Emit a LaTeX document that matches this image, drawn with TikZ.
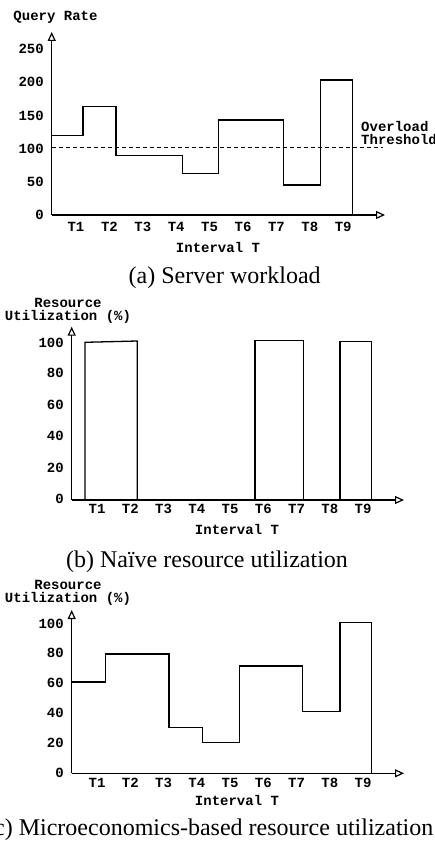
\documentclass[tikz,border=0pt]{standalone}
\usepackage{fontspec}
\setmainfont{Liberation Serif}
\setmonofont{Liberation Mono}
\usetikzlibrary{arrows.meta}

\begin{document}
\begin{tikzpicture}[x=1pt, y=-1pt,
  axis/.style={line width=1.2pt, -{Triangle[open, length=9pt, width=8pt]}},
  curve/.style={line width=1.3pt},
  mono/.style={inner sep=0pt, font=\ttfamily\bfseries\fontsize{14}{13}\selectfont, align=center},
  caption/.style={inner sep=0pt, font=\fontsize{24}{26}\selectfont, anchor=base}]
\useasboundingbox (0,0) rectangle (435,842);

% (a) server workload
\coordinate (a-o) at (51.7,215);
\draw[axis] (a-o) -- (51.7,32);
\draw[axis] (a-o) -- (385,215);
\node[mono] (qrate) at (55.5,17) {Query Rate};
\foreach \v/\y in {0/215,50/181.8,100/148.6,150/115.4,200/82.2,250/49}
  \node[mono, anchor=east] (a-y\v) at (44,\y) {\v};
\foreach \i in {1,...,9}
  \node[mono] (a-t\i) at ({76+33.4*(\i-1)},227) {T\i};
\node[mono] (a-int) at (218,247) {Interval T};
\draw[line width=1pt, dash pattern=on 4pt off 3pt] (51.7,148) -- (383,148);
\node[mono, anchor=west, align=left] (thresh) at (361,132.5) {Overload\\Threshold};
\draw[curve] (51.7,135.7) -- (83,135.7) -- (83,106.7) -- (116,106.7) -- (116,155.7)
  -- (182.3,155.7) -- (182.3,173.3) -- (218.3,173.3) -- (218.3,120) -- (283.3,120)
  -- (283.3,185) -- (320.7,185) -- (320.7,80) -- (352.7,80) -- (352.7,215);
\node[caption] (cap-a) at (224.7,283) {(a) Server workload};

% (b) naive utilization
\coordinate (b-o) at (71.7,500);
\draw[axis] (b-o) -- (71.7,326.7);
\draw[axis] (b-o) -- (404,500);
\node[mono] (b-util) at (68,310.5) {Resource\\Utilization (\%)};
\foreach \v/\y in {0/499,20/468,40/436,60/405,80/373,100/343}
  \node[mono, anchor=east] (b-y\v) at (64,\y) {\v};
\foreach \i in {1,...,9}
  \node[mono] (b-t\i) at ({97+33.25*(\i-1)},509) {T\i};
\node[mono] (b-int) at (237,529) {Interval T};
\draw[curve] (85,500) -- (85,342.3) -- (137.3,341) -- (137.3,500);
\draw[curve] (255,500) -- (255,340.7) -- (303.3,340.7) -- (303.3,500);
\draw[curve] (340,500) -- (340,341.3) -- (371.7,341.3) -- (371.7,500);
\node[caption] (cap-b) at (207,567) {(b) Naïve resource utilization};

% (c) microeconomics-based utilization
\coordinate (c-o) at (71.7,773.3);
\draw[axis] (c-o) -- (71.7,610);
\draw[axis] (c-o) -- (404,773.3);
\node[mono] (c-util) at (68,593) {Resource\\Utilization (\%)};
\foreach \v/\y in {0/772.7,20/742.7,40/712.7,60/682.7,80/653.3,100/624}
  \node[mono, anchor=east] (c-y\v) at (64,\y) {\v};
\foreach \i in {1,...,9}
  \node[mono] (c-t\i) at ({97+33.25*(\i-1)},782.7) {T\i};
\node[mono] (c-int) at (237,800.7) {Interval T};
\draw[curve] (71.7,682) -- (105.3,682) -- (105.3,654) -- (169,654) -- (169,727.7)
  -- (202.7,727.7) -- (202.7,742.7) -- (239.3,742.7) -- (239.3,666) -- (302.7,666)
  -- (302.7,711.7) -- (340,711.7) -- (340,622.3) -- (371.7,622.3) -- (371.7,773.3);
\node[caption, anchor=base east] (cap-c) at (433.5,835) {(c) Microeconomics-based resource utilization};
\end{tikzpicture}
\end{document}
